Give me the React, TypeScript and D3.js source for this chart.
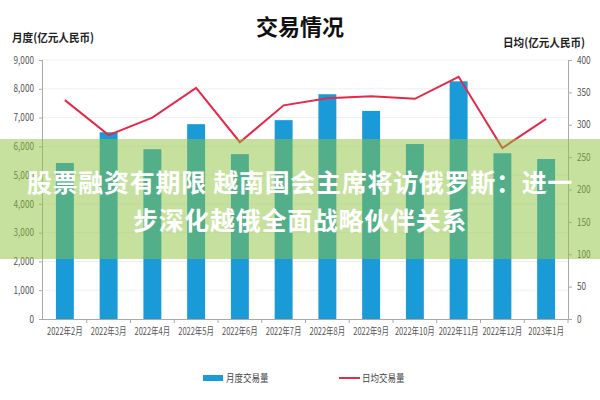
import * as d3 from 'd3';
import React, { useEffect, useRef } from 'react';

// 月度 / 日均 交易量 readings from the reference picture
const months = [
  '2022年2月', '2022年3月', '2022年4月', '2022年5月', '2022年6月', '2022年7月',
  '2022年8月', '2022年9月', '2022年10月', '2022年11月', '2022年12月', '2023年1月'
];
const monthlyVolume = [5420, 6490, 5900, 6770, 5730, 6910, 7810, 7230, 6080, 8260, 5760, 5560];
const dailyVolume = [338, 284, 311, 357, 273, 330, 341, 344, 340, 374, 264, 309];
const leftTicks = [0, 1000, 2000, 3000, 4000, 5000, 6000, 7000, 8000, 9000];
const rightTicks = [0, 50, 100, 150, 200, 250, 300, 350, 400];

const width = 600;
const height = 400;
const margin = { top: 60, right: 32, bottom: 81, left: 43 };
const font = '"Noto Sans CJK SC", "Noto Sans", sans-serif';

const BLUE = '#1a9bd7';
const RED = '#e6294b';

// the reference uses a narrow face, squeeze the labels horizontally
const squeeze = (sel: d3.Selection<SVGTextElement, unknown, any, any>, k: number) => {
  sel.each(function () {
    const t = this as SVGTextElement;
    const len = t.getComputedTextLength();
    t.setAttribute('textLength', String(len * k));
    t.setAttribute('lengthAdjust', 'spacingAndGlyphs');
  });
};

const App: React.FC = () => {
  const ref = useRef<SVGSVGElement>(null);

  useEffect(() => {
    const svg = d3.select(ref.current);
    svg.selectAll('*').remove();

    const x = d3
      .scaleBand<string>()
      .domain(months)
      .range([margin.left, width - margin.right])
      .paddingInner(0.59)
      .paddingOuter(0.295);
    const xc = d3
      .scalePoint<string>()
      .domain(months)
      .range([margin.left, width - margin.right])
      .padding(0.5);
    const yL = d3.scaleLinear().domain([0, 9000]).range([height - margin.bottom, margin.top]);
    const yR = d3.scaleLinear().domain([0, 400]).range([height - margin.bottom, margin.top]);

    // gridlines
    svg
      .append('g')
      .selectAll('line')
      .data(leftTicks.slice(1))
      .join('line')
      .attr('x1', margin.left)
      .attr('x2', width - margin.right)
      .attr('y1', (d) => yL(d))
      .attr('y2', (d) => yL(d))
      .attr('stroke', '#f0f0f0');

    // bars
    svg
      .append('g')
      .selectAll('rect')
      .data(monthlyVolume)
      .join('rect')
      .attr('x', (_d, i) => x(months[i])!)
      .attr('width', x.bandwidth())
      .attr('y', (d) => yL(d))
      .attr('height', (d) => yL(0) - yL(d))
      .attr('fill', BLUE);

    // line
    const line = d3
      .line<number>()
      .x((_d, i) => xc(months[i])!)
      .y((d) => yR(d));
    svg
      .append('path')
      .datum(dailyVolume)
      .attr('d', line)
      .attr('fill', 'none')
      .attr('stroke', RED)
      .attr('stroke-width', 2);

    // axes
    const styleAxis = (g: d3.Selection<SVGGElement, unknown, any, any>) => {
      g.select('.domain').attr('stroke', '#aaa');
      g.selectAll('.tick line').attr('stroke', '#aaa');
      g.selectAll<SVGTextElement, unknown>('.tick text')
        .attr('fill', '#555')
        .style('font-family', font)
        .style('font-size', '10px');
    };

    const gL = svg
      .append('g')
      .attr('transform', `translate(${margin.left},0)`)
      .call(
        d3.axisLeft(yL).tickValues(leftTicks).tickSize(4).tickPadding(5).tickFormat(d3.format(','))
      );
    styleAxis(gL);
    gL.select('.domain').attr('d', `M-0.5,${yL(9000)}V${yL(0)}`);
    squeeze(gL.selectAll<SVGTextElement, unknown>('.tick text'), 0.82);

    const gR = svg
      .append('g')
      .attr('transform', `translate(${width - margin.right},0)`)
      .call(d3.axisRight(yR).tickValues(rightTicks).tickSize(4).tickPadding(5));
    styleAxis(gR);
    gR.select('.domain').attr('d', `M0.5,${yR(400)}V${yR(0)}`);
    squeeze(gR.selectAll<SVGTextElement, unknown>('.tick text'), 0.82);

    const gB = svg
      .append('g')
      .attr('transform', `translate(0,${height - margin.bottom})`)
      .call(d3.axisBottom(x).tickSize(0).tickPadding(9));
    styleAxis(gB);
    gB.select('.domain').attr('d', `M${margin.left},0.5H${width - margin.right}`);
    // ticks between categories
    gB.append('g')
      .selectAll('line')
      .data(months)
      .join('line')
      .attr('x1', (d) => xc(d)! + xc.step() / 2)
      .attr('x2', (d) => xc(d)! + xc.step() / 2)
      .attr('y1', 0)
      .attr('y2', 4)
      .attr('stroke', '#aaa');
    squeeze(gB.selectAll<SVGTextElement, unknown>('.tick text'), 0.75);

    // titles
    svg
      .append('text')
      .attr('x', 300)
      .attr('y', 35)
      .attr('text-anchor', 'middle')
      .style('font-family', font)
      .style('font-size', '22px')
      .style('font-weight', 'bold')
      .attr('fill', '#111')
      .text('交易情况');
    svg
      .append('text')
      .attr('x', 12)
      .attr('y', 42)
      .style('font-family', font)
      .style('font-size', '11.5px')
      .style('font-weight', 'bold')
      .attr('fill', '#222')
      .text('月度(亿元人民币)')
      .call(squeeze, 0.92);
    svg
      .append('text')
      .attr('x', 503)
      .attr('y', 47)
      .style('font-family', font)
      .style('font-size', '11.5px')
      .style('font-weight', 'bold')
      .attr('fill', '#222')
      .text('日均(亿元人民币)')
      .call(squeeze, 0.92);

    // legend
    const lg = svg.append('g').style('font-family', font).style('font-size', '10px');
    lg.append('rect').attr('x', 203).attr('y', 375).attr('width', 20).attr('height', 6).attr('fill', BLUE);
    lg.append('text').attr('x', 226).attr('y', 382).attr('fill', '#444').text('月度交易量').call(squeeze, 0.85);
    lg.append('line')
      .attr('x1', 339)
      .attr('x2', 360)
      .attr('y1', 378)
      .attr('y2', 378)
      .attr('stroke', RED)
      .attr('stroke-width', 2);
    lg.append('text').attr('x', 362).attr('y', 382).attr('fill', '#444').text('日均交易量').call(squeeze, 0.85);

    // green overlay band with headline
    svg
      .append('rect')
      .attr('x', 0)
      .attr('y', 139)
      .attr('width', width)
      .attr('height', 120)
      .attr('fill', 'rgb(140,196,60)')
      .attr('fill-opacity', 0.5);
    const headline = svg
      .append('g')
      .attr('text-anchor', 'middle')
      .attr('fill', '#fff')
      .style('font-family', font)
      .style('font-size', '25px')
      .style('font-weight', 'bold')
      .style('letter-spacing', '0.7px');
    headline.append('text').attr('x', 300).attr('y', 192).text('股票融资有期限 越南国会主席将访俄罗斯：进一');
    headline.append('text').attr('x', 300).attr('y', 230).text('步深化越俄全面战略伙伴关系');
  }, []);

  return (
    <svg
      ref={ref}
      width={width}
      height={height}
      viewBox={`0 0 ${width} ${height}`}
      style={{ position: 'absolute', left: 0, top: 0, background: '#fff' }}
    />
  );
};

export default App;
